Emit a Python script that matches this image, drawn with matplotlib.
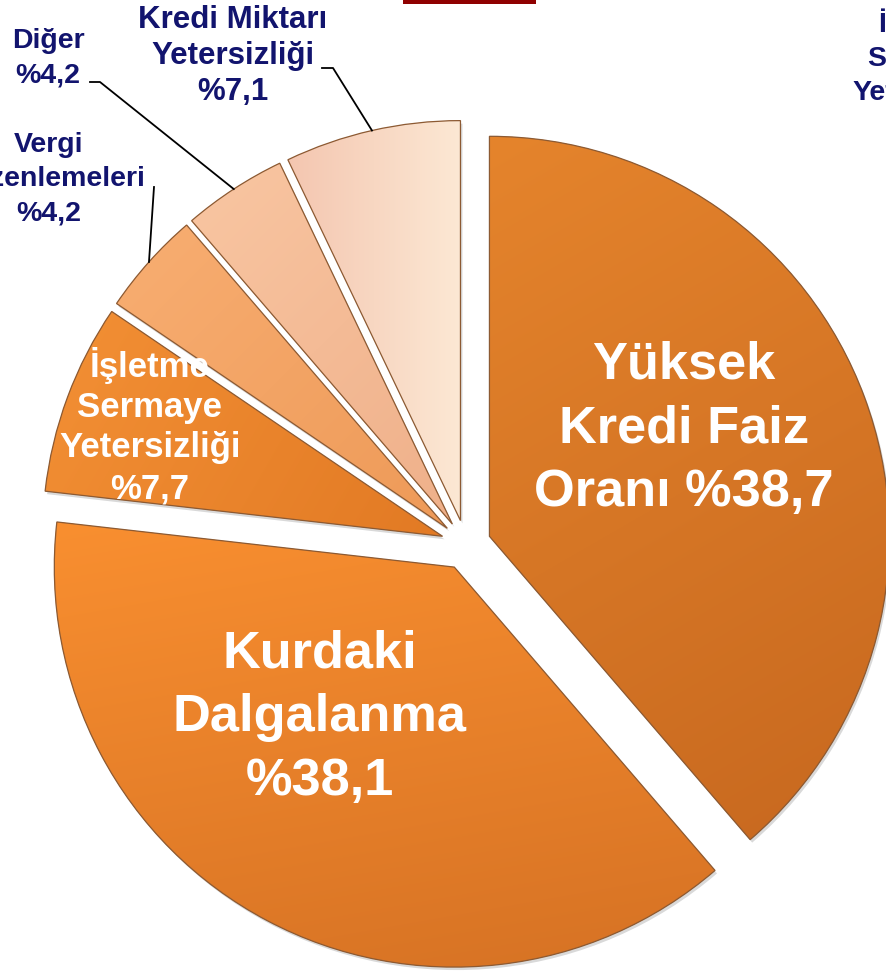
import numpy as np
import matplotlib.pyplot as plt
from matplotlib.colors import to_rgb
from matplotlib.patches import PathPatch, Rectangle
from matplotlib.transforms import Affine2D

# data
categories = ["Yüksek Kredi Faiz Oranı", "Kurdaki Dalgalanma",
              "İşletme Sermaye Yetersizliği", "Vergi Düzenlemeleri",
              "Diğer", "Kredi Miktarı Yetersizliği"]
shares = [38.7, 38.1, 7.7, 4.2, 4.2, 7.1]
label_lines = [
    ["Yüksek", "Kredi Faiz", "Oranı %38,7"],
    ["Kurdaki", "Dalgalanma", "%38,1"],
    ["İşletme", "Sermaye", "Yetersizliği", "%7,7"],
    ["Vergi", "Düzenlemeleri", "%4,2"],
    ["Diğer", "%4,2"],
    ["Kredi Miktarı", "Yetersizliği", "%7,1"],
]

# styling
W, H = 887, 971
light = ["#E5842C", "#F98F30", "#F39035", "#F8AE72", "#F9C6A2", "#F4C6B0"]
dark = ["#C7681F", "#D67224", "#E27A24", "#EE9A58", "#EFB08A", "#FCE8D4"]
grad_dir = [-60, -80, -30, -45, -45, 0]
navy = "#12146E"
font = ["Liberation Sans", "DejaVu Sans"]

fig = plt.figure(figsize=(W / 100, H / 100), dpi=100)
ax = fig.add_axes([0, 0, 1, 1])

center = (466, H - 545)
radius = 400
wedges, _ = ax.pie(shares, startangle=90, counterclock=False,
                   explode=[25] * len(shares), radius=radius,
                   center=center, colors=light,
                   wedgeprops=dict(linewidth=0))


def fill_gradient(wedge, c1, c2, direction):
    path = wedge.get_path()
    ext = path.get_extents()
    xs = np.linspace(0, 1, 200)
    X, Y = np.meshgrid(xs, xs)
    a = np.deg2rad(direction)
    t = X * np.cos(a) * ext.width + Y * np.sin(a) * ext.height
    t = (t - t.min()) / (t.max() - t.min())
    img = (1 - t)[..., None] * np.array(to_rgb(c1)) + t[..., None] * np.array(to_rgb(c2))
    im = ax.imshow(img, extent=(ext.x0, ext.x1, ext.y0, ext.y1), origin="lower",
                   interpolation="bilinear", zorder=2)
    im.set_clip_path(wedge)
    # soft shadow and thin rim
    ax.add_patch(PathPatch(path.transformed(Affine2D().translate(2, -3)),
                           facecolor="black", alpha=0.15, lw=0, zorder=0.5))
    ax.add_patch(PathPatch(path, fill=False, edgecolor="#8C5A33", lw=0.9, zorder=3))


for w, c1, c2, d in zip(wedges, light, dark, grad_dir):
    fill_gradient(w, c1, c2, d)


def put_lines(x, baselines, lines, size, color):
    for yb, line in zip(baselines, lines):
        ax.text(x, H - yb, line, ha="center", va="baseline", fontsize=size,
                fontweight="bold", color=color, family=font, zorder=5)


def rim_point(w):
    mid = np.deg2rad((w.theta1 + w.theta2) / 2)
    return w.center[0] + w.r * np.cos(mid), w.center[1] + w.r * np.sin(mid)


# labels inside the slices
put_lines(684, [378, 442, 506], label_lines[0], 37.7, "white")
put_lines(320, [667, 731, 795], label_lines[1], 37.7, "white")
put_lines(150, [377, 417, 457, 498], label_lines[2], 25, "white")

# outside labels
put_lines(49, [152, 186, 220], label_lines[3], 20.5, navy)
put_lines(48, [48, 82], label_lines[4], 20.5, navy)
put_lines(233, [28, 64, 100], label_lines[5], 22.5, navy)
# duplicate label cut at the right edge of the slide
put_lines(927, [32, 66, 100, 134], label_lines[2], 20.5, navy)

# leader lines
leaders = {5: [(322, 68), (333, 68)], 4: [(90, 82), (100, 82)], 3: [(154, 187)]}
for i, pts in leaders.items():
    px, py = rim_point(wedges[i])
    xs = [p[0] for p in pts] + [px]
    ys = [H - p[1] for p in pts] + [py]
    ax.plot(xs, ys, color="black", lw=1.3, zorder=4)

# title bar remnant
ax.add_patch(Rectangle((403, H - 4), 133, 4, color="#8F0000", lw=0, zorder=5))

ax.set_xlim(0, W)
ax.set_ylim(0, H)
ax.set_aspect("equal")
ax.axis("off")
fig.savefig("out.png", dpi=100)
